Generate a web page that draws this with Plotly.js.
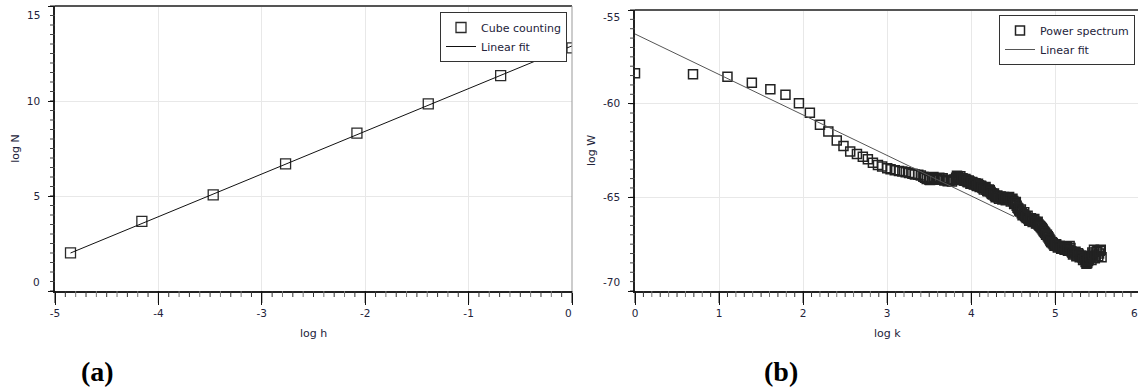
<!DOCTYPE html>
<html><head><meta charset="utf-8">
<script src="https://cdn.plot.ly/plotly-3.0.1.min.js"></script>
<style>html,body{margin:0;padding:0;overflow:hidden;background:#fff}</style>
</head><body>
<div id="chart" style="width:1140px;height:387px"></div>
<script>
// ---- Panel (a): cube counting ----
const logH = [-4.85, -4.16, -3.47, -2.77, -2.08, -1.39, -0.69, 0];
const logN = [2.01, 3.66, 5.06, 6.69, 8.31, 9.85, 11.34, 12.8];
const fitAX = [-4.85, 0];
const fitAY = [2.0, 12.9];

// ---- Panel (b): power spectrum ----
const logK = [0, 0.69, 1.10, 1.39, 1.61, 1.79, 1.95, 2.08, 2.20, 2.30, 2.40, 2.48, 2.56, 2.64, 2.71, 2.77, 2.83, 2.89, 2.94, 3.00,
  3.04, 3.09, 3.14, 3.18, 3.22, 3.26, 3.30, 3.33, 3.37, 3.40, 3.43, 3.47, 3.50, 3.53, 3.56, 3.59, 3.62, 3.65, 3.68, 3.71,
  3.74, 3.77, 3.80, 3.82, 3.84, 3.86, 3.88, 3.90, 3.92, 3.94, 3.96, 3.98, 4.00, 4.02, 4.04, 4.06, 4.08, 4.10, 4.12, 4.14,
  4.16, 4.18, 4.20, 4.22, 4.24, 4.26, 4.28, 4.30, 4.32, 4.34, 4.36, 4.38, 4.40, 4.42, 4.44, 4.46, 4.48, 4.50, 4.52, 4.54,
  4.56, 4.58, 4.60, 4.62, 4.64, 4.66, 4.68, 4.70, 4.72, 4.74, 4.76, 4.78, 4.80, 4.82, 4.84, 4.86, 4.88, 4.90, 4.92, 4.94,
  4.96, 4.98, 5.00, 5.02, 5.04, 5.06, 5.08, 5.10, 5.12, 5.14, 5.16, 5.18, 5.20, 5.22, 5.24, 5.26, 5.28, 5.30, 5.32, 5.34,
  5.36, 5.38, 5.40, 5.42, 5.44, 5.46, 5.48, 5.50, 5.52, 5.54, 5.55,
  3.45, 3.51, 3.55, 3.61, 3.66, 3.72, 3.78, 3.83, 3.85, 3.87, 3.89, 3.91, 3.93, 3.95, 3.97, 3.99, 4.01, 4.03, 4.05, 4.07,
  4.09, 4.11, 4.13, 4.15, 4.17, 4.19, 4.21, 4.23, 4.25, 4.27, 4.29, 4.31, 4.33, 4.35, 4.37, 4.39, 4.41, 4.43, 4.45, 4.47,
  4.49, 4.51, 4.53, 4.55, 4.57, 4.59, 4.61, 4.63, 4.65, 4.67, 4.69, 4.71, 4.73, 4.75, 4.77, 4.79, 4.81, 4.83, 4.85, 4.87,
  4.89, 4.91, 4.93, 4.95, 4.97, 4.99, 5.01, 5.03, 5.05, 5.07, 5.09, 5.11, 5.13, 5.15, 5.17, 5.19, 5.21, 5.23, 5.25, 5.27,
  5.29, 5.31, 5.33, 5.35, 5.37, 5.39, 5.41, 5.43, 5.45, 5.47, 5.49, 5.51, 5.53];
const logW = [-58.38, -58.43, -58.56, -58.88, -59.23, -59.52, -59.98, -60.48, -61.12, -61.49, -61.96, -62.26, -62.56, -62.69, -62.83, -62.97, -63.15, -63.27, -63.36, -63.45,
  -63.50, -63.56, -63.60, -63.62, -63.66, -63.70, -63.74, -63.78, -63.80, -63.84, -63.90, -64.02, -64.05, -64.00, -63.98, -64.02, -63.96, -64.05, -64.10, -64.08,
  -64.12, -64.15, -64.05, -63.95, -63.90, -63.95, -64.05, -64.00, -64.12, -64.08, -64.20, -64.15, -64.25, -64.22, -64.30, -64.35, -64.28, -64.45, -64.40, -64.52,
  -64.50, -64.60, -64.68, -64.62, -64.78, -64.85, -64.92, -64.95, -65.00, -64.98, -65.05, -65.02, -65.08, -65.00, -65.05, -65.10, -65.15, -65.20, -65.30, -65.45,
  -65.60, -65.75, -65.85, -65.90, -66.00, -66.10, -66.15, -66.20, -66.25, -66.20, -66.30, -66.38, -66.45, -66.55, -66.65, -66.80, -66.90, -67.00, -67.15, -67.30,
  -67.40, -67.50, -67.55, -67.60, -67.62, -67.65, -67.70, -67.68, -67.75, -67.65, -67.80, -67.70, -67.95, -68.00, -67.90, -68.10, -68.05, -68.15, -68.20, -68.25,
  -68.45, -68.50, -68.30, -68.20, -67.95, -67.80, -68.10, -67.85, -68.00, -67.80, -68.20,
  -63.95, -64.08, -63.92, -64.06, -63.98, -64.14, -64.08, -63.85, -64.02, -63.88, -63.98, -64.10, -64.02, -64.15, -64.10, -64.28, -64.18, -64.32, -64.25, -64.40,
  -64.35, -64.38, -64.48, -64.58, -64.45, -64.66, -64.58, -64.72, -64.82, -64.80, -65.00, -64.90, -65.08, -64.95, -65.12, -64.98, -65.15, -65.08, -64.98, -65.22,
  -65.08, -65.35, -65.25, -65.55, -65.70, -65.65, -65.95, -65.80, -66.05, -65.98, -66.25, -66.12, -66.32, -66.15, -66.40, -66.30, -66.50, -66.60, -66.72, -66.85,
  -67.00, -67.08, -67.22, -67.38, -67.45, -67.58, -67.50, -67.68, -67.58, -67.75, -67.62, -67.80, -67.70, -67.85, -67.60, -67.88, -68.05, -67.95, -68.15, -67.98,
  -68.20, -68.10, -68.35, -68.30, -68.55, -68.40, -68.15, -68.35, -68.05, -68.25, -67.90, -68.15, -67.85];
const fitBX = [0, 4.51];
const fitBY = [-56.28, -66.03];

// ---- tick labels ----
const xTicksA = [-5, -4, -3, -2, -1, 0];
const yTicksA = [0, 5, 10, 15];
const xTicksB = [0, 1, 2, 3, 4, 5, 6];
const yTicksB = [-70, -65, -60, -55];

const W = 1140, H = 387;
const FONT = 'DejaVu Sans';
const TCOL = '#23233a';

function blankEnds(vals, first, last) {
  return vals.map((v, i) => ((first && i === 0) || (last && i === vals.length - 1)) ? '' : String(v));
}
function xAxis(range, dom, ticks, anchor, title, blankLast) {
  return {
    range: range, domain: dom, anchor: anchor, side: 'bottom',
    tickmode: 'array', tickvals: ticks, ticktext: blankEnds(ticks, false, blankLast),
    ticks: 'outside', ticklen: 12, tickwidth: 1, tickcolor: '#111',
    showline: true, linecolor: '#222', linewidth: 1.5,
    showgrid: true, gridcolor: '#e8e8e8', gridwidth: 1, zeroline: false,
    tickfont: {family: FONT, size: 10.5, color: TCOL},
    title: {text: title, font: {family: FONT, size: 11, color: TCOL}, standoff: 11},
    fixedrange: true
  };
}
function yAxis(range, dom, ticks, anchor, title) {
  return {
    range: range, domain: dom, anchor: anchor, side: 'left',
    tickmode: 'array', tickvals: ticks, ticktext: blankEnds(ticks, true, true),
    ticks: 'outside', ticklen: 5, tickwidth: 1, tickcolor: '#111',
    showline: true, linecolor: '#222', linewidth: 1.5,
    showgrid: true, gridcolor: '#e8e8e8', gridwidth: 1, zeroline: false,
    tickfont: {family: FONT, size: 10.5, color: TCOL},
    ticklabelstandoff: 6,
    title: {text: title, font: {family: FONT, size: 11, color: TCOL}, standoff: 5},
    fixedrange: true
  };
}

const data = [
  {x: logH, y: logN, xaxis: 'x', yaxis: 'y', mode: 'markers', name: 'Cube counting', legend: 'legend',
   marker: {symbol: 'square-open', size: 10, color: '#2a2a2a', line: {width: 1.3}}},
  {x: fitAX, y: fitAY, xaxis: 'x', yaxis: 'y', mode: 'lines', name: 'Linear fit', legend: 'legend',
   line: {color: '#111', width: 1}},
  {x: logK, y: logW, xaxis: 'x2', yaxis: 'y2', mode: 'markers', name: 'Power spectrum', legend: 'legend2',
   marker: {symbol: 'square-open', size: 9, color: '#222', line: {width: 1.5}}},
  {x: fitBX, y: fitBY, xaxis: 'x2', yaxis: 'y2', mode: 'lines', name: 'Linear fit', legend: 'legend2',
   line: {color: '#555', width: 1}}
];

const domAx = [55 / W, 572 / W], domBx = [635 / W, 1139.4 / W];
const domAy = [(H - 291) / H, (H - 6) / H], domBy = [(H - 291) / H, (H - 10) / H];

function endLabel(text, xref, x, yref, y, opts) {
  return Object.assign({text: text, xref: xref, x: x, yref: yref, y: y, showarrow: false,
    font: {family: FONT, size: 10.5, color: TCOL}}, opts);
}

const annotations = [
  endLabel('0', 'x domain', 0, 'y', 0, {xanchor: 'right', yanchor: 'middle', xshift: -13, yshift: 9}),
  endLabel('15', 'x domain', 0, 'y', 15, {xanchor: 'right', yanchor: 'middle', xshift: -13, yshift: -9}),
  endLabel('0', 'x', 0, 'y domain', 0, {xanchor: 'center', yanchor: 'top', xshift: -4, yshift: -14}),
  endLabel('-70', 'x2 domain', 0, 'y2', -70, {xanchor: 'right', yanchor: 'middle', xshift: -13, yshift: 9}),
  endLabel('-55', 'x2 domain', 0, 'y2', -55, {xanchor: 'right', yanchor: 'middle', xshift: -13, yshift: -7}),
  endLabel('6', 'x2', 6, 'y2 domain', 0, {xanchor: 'center', yanchor: 'top', xshift: -5, yshift: -14}),
  {text: '<b>(a)</b>', xref: 'paper', yref: 'paper', x: 97 / W, y: 1 - 371 / H, xanchor: 'center', yanchor: 'middle',
   showarrow: false, font: {family: 'Liberation Serif', size: 28, color: '#000'}},
  {text: '<b>(b)</b>', xref: 'paper', yref: 'paper', x: 781 / W, y: 1 - 371 / H, xanchor: 'center', yanchor: 'middle',
   showarrow: false, font: {family: 'Liberation Serif', size: 28, color: '#000'}}
];

const shapes = [];
// plot frame: top and right borders
[['x', 'y'], ['x2', 'y2']].forEach(([xa, ya]) => {
  shapes.push({type: 'line', xref: xa + ' domain', yref: ya + ' domain', x0: 0, x1: 1, y0: 1, y1: 1,
    line: {color: '#555', width: 2}});
  shapes.push({type: 'line', xref: xa + ' domain', yref: ya + ' domain', x0: 1, x1: 1, y0: 0, y1: 1,
    line: {color: '#999', width: 1}});
});

// tick marks (major + minor), placed as fractions of each axis domain (unclipped)
function isMajor(v, majors) { return majors.some(m => Math.abs(m - v) < 1e-6); }
function addXTicks(xa, ya, range, majors, step, domY) {
  const hPx = (domY[1] - domY[0]) * H;
  const n = Math.round((range[1] - range[0]) / step);
  for (let i = 0; i <= n; i++) {
    const v = range[0] + i * step;
    const f = (v - range[0]) / (range[1] - range[0]);
    const maj = isMajor(+v.toFixed(4), majors);
    const len = maj ? 12 : 6;
    shapes.push({type: 'line', layer: 'above', xref: xa + ' domain', yref: ya + ' domain',
      x0: f, x1: f, y0: 0, y1: -len / hPx,
      line: {color: maj ? '#111' : (i % 2 ? '#333' : '#777'), width: 1}});
  }
}
function addYTicks(xa, ya, range, majors, step, domX) {
  const wPx = (domX[1] - domX[0]) * W;
  const n = Math.round((range[1] - range[0]) / step);
  for (let i = 0; i <= n; i++) {
    const v = range[0] + i * step;
    const f = (v - range[0]) / (range[1] - range[0]);
    const maj = isMajor(+v.toFixed(4), majors);
    shapes.push({type: 'line', layer: 'above', xref: xa + ' domain', yref: ya + ' domain',
      x0: 0, x1: -5 / wPx, y0: f, y1: f,
      line: {color: maj ? '#111' : '#444', width: 1}});
  }
}
addXTicks('x', 'y', [-5, 0], xTicksA, 0.1, domAy);
addYTicks('x', 'y', [0, 15], yTicksA, 0.5, domAx);
addXTicks('x2', 'y2', [0, 6], xTicksB, 0.1, domBy);
addYTicks('x2', 'y2', [-70, -55], yTicksB, 0.5, domBx);

const legendBase = {
  bgcolor: '#fff', bordercolor: '#333', borderwidth: 1,
  font: {family: FONT, size: 11, color: TCOL}, xanchor: 'right', yanchor: 'top',
  tracegroupgap: 0, itemwidth: 30
};

const layout = {
  width: W, height: H,
  margin: {l: 0, r: 0, t: 0, b: 0},
  paper_bgcolor: '#fff', plot_bgcolor: 'rgba(0,0,0,0)',
  showlegend: true,
  xaxis: xAxis([-5, 0], domAx, xTicksA, 'y', 'log h', true),
  yaxis: yAxis([0, 15], domAy, yTicksA, 'x', 'log N'),
  xaxis2: xAxis([0, 6], domBx, xTicksB, 'y2', 'log k', true),
  yaxis2: yAxis([-70, -55], domBy, yTicksB, 'x2', 'log W'),
  legend: Object.assign({}, legendBase, {x: 567 / W, y: 1 - 12 / H}),
  legend2: Object.assign({}, legendBase, {x: 1135 / W, y: 1 - 15 / H}),
  annotations: annotations,
  shapes: shapes
};

Plotly.newPlot('chart', data, layout, {displayModeBar: false});
</script>
</body></html>
